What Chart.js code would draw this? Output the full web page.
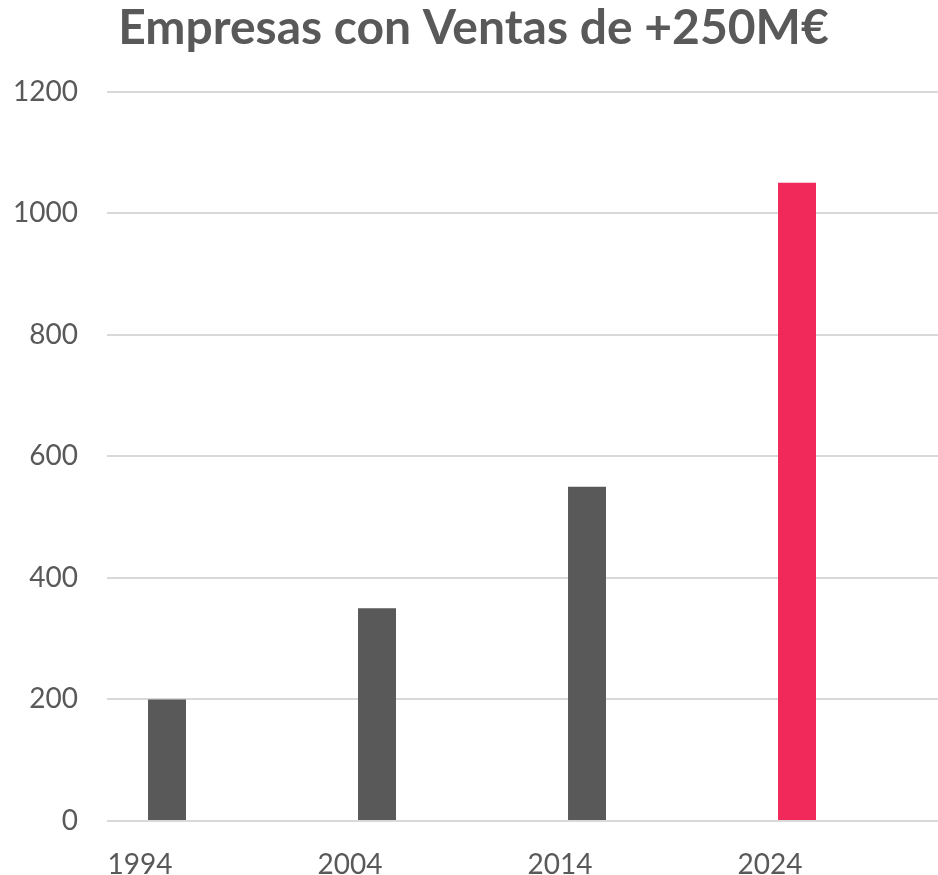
<!DOCTYPE html>
<html>
<head>
<meta charset="utf-8">
<script src="https://cdn.jsdelivr.net/npm/chart.js@4/dist/chart.umd.min.js"></script>
<style>
    html, body { margin: 0; padding: 0; background: #ffffff; overflow: hidden; }
    #wrap { width: 950px; height: 875px; }
</style>
</head>
<body>
<div id="wrap"><canvas id="ventasChart"></canvas></div>
<script>
const years = ["1994", "2004", "2014", "2024"];
const empresas = [200, 350, 550, 1050];
const spacer = [null, null, null, null];
const barColors = ["#595959", "#595959", "#595959", "#F0295A"];
const yMax = 1200;
const yStep = 200;

const TEXT = "#595959";
const GRID = "#d9d9d9";

new Chart(document.getElementById("ventasChart"), {
    type: "bar",

    data: {
        labels: years,

        datasets: [
            {
                label: "Empresas",
                data: empresas,
                backgroundColor: barColors,
                categoryPercentage: 0.857,
                barPercentage: 0.422,
            },
            {
                label: "",
                data: spacer,
                categoryPercentage: 0.857,
                barPercentage: 0.422,
            },
        ],
    },

    options: {
        responsive: true,
        maintainAspectRatio: false,
        animation: false,

        layout: {
            padding: { left: 0, right: 3, top: 0, bottom: 0 },
        },

        plugins: {
            legend: { display: false },
            tooltip: { enabled: false },

            title: {
                display: true,
                text: "Empresas con Ventas de +250M€",
                color: TEXT,
                font: { family: "Lato", size: 48, weight: "bold" },
                padding: { top: 0, bottom: 34 },
            },
        },

        scales: {
            x: {
                grid: { display: false },
                border: { display: false },

                ticks: {
                    color: TEXT,
                    labelOffset: -72,
                    padding: 19,
                    font: { family: "Lato", size: 28 },
                },

                afterFit: function (scale) {
                    scale.height = 54;
                },
            },

            y: {
                min: 0,
                max: yMax,
                border: { display: false },

                grid: {
                    color: GRID,
                    lineWidth: 2,
                    drawTicks: false,
                },

                ticks: {
                    stepSize: yStep,
                    color: TEXT,
                    padding: 29,
                    font: { family: "Lato", size: 28 },
                    callback: function (value) {
                        return String(value);
                    },
                },

                afterFit: function (scale) {
                    scale.width = 107;
                },
            },
        },
    },
});
</script>
</body>
</html>
